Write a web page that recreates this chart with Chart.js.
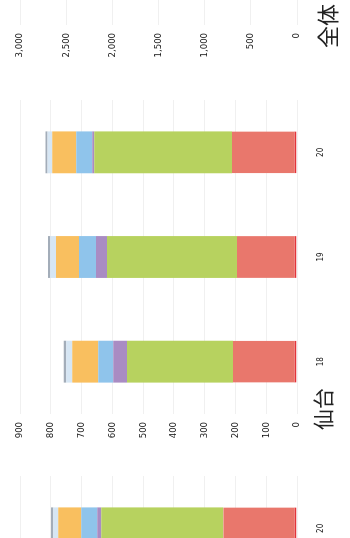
<!DOCTYPE html>
<html>
<head>
<meta charset="utf-8">
<script src="https://cdn.jsdelivr.net/npm/chart.js@4.4.0/dist/chart.umd.min.js"></script>
<style>
    body { margin: 0; background: #fff; overflow: hidden; }
    #frame {
        position: absolute; left: 0; top: 0;
        width: 538px; height: 350px;
        transform-origin: 0 0;
        transform: translate(0, 538px) rotate(-90deg);
        overflow: hidden;
        background: #fff;
    }
    .box { position: absolute; top: 0; width: 390px; height: 350px; }
    .title {
        position: absolute;
        font-family: 'Noto Sans CJK JP', sans-serif;
        color: #222;
        line-height: 1;
        white-space: nowrap;
    }
</style>
</head>
<body>
<div id="frame">
    <div class="box" style="left:-316px"><canvas id="prevChart" width="390" height="350"></canvas></div>
    <div class="box" style="left:60px"><canvas id="sendaiChart" width="390" height="350"></canvas></div>
    <div class="box" style="left:449px"><canvas id="totalChart" width="390" height="350"></canvas></div>
    <div class="title" style="left:108px; top:312px; font-size:21px;">仙台</div>
    <div class="title" style="left:490px; top:315px; font-size:22px;">全体</div>
</div>
<script>
const categories = ['18', '19', '20'];

// 仙台 (bottom segment first)
const sendaiRed = [208, 195, 211];
const sendaiGreen = [344, 422, 448];
const sendaiPurple = [45, 36, 6];
const sendaiBlue = [49, 55, 52];
const sendaiOrange = [84, 75, 78];
const sendaiLightBlue = [20, 19, 16];
const sendaiGray = [8, 7, 6];
const sendaiTicks = [0, 100, 200, 300, 400, 500, 600, 700, 800, 900];

// chart to the left of 仙台, only its last bar shows on the page
const prevRed = [null, null, 240];
const prevGreen = [null, null, 396];
const prevPurple = [null, null, 13];
const prevBlue = [null, null, 52];
const prevOrange = [null, null, 75];
const prevLightBlue = [null, null, 16];
const prevGray = [null, null, 7];

// 全体 axis
const totalTicks = [0, 500, 1000, 1500, 2000, 2500, 3000];

const colors = {
    red: '#E9776C',
    redEdge: '#E3343A',
    green: '#B7D25F',
    purple: '#A98CC3',
    blue: '#8FC4EB',
    orange: '#F9BF5F',
    lightBlue: '#D6E6F4',
    gray: '#A3ADB9'
};

const tickFont = "'DejaVu Sans Condensed', 'DejaVu Sans', sans-serif";

function makeDatasets(red, green, purple, blue, orange, lightBlue, gray) {
    return [
        {
            label: 'red', data: red, backgroundColor: colors.red,
            borderColor: colors.redEdge, borderSkipped: false,
            borderWidth: { top: 0, left: 0, right: 0, bottom: 2 }
        },
        { label: 'green', data: green, backgroundColor: colors.green },
        { label: 'purple', data: purple, backgroundColor: colors.purple },
        { label: 'blue', data: blue, backgroundColor: colors.blue },
        { label: 'orange', data: orange, backgroundColor: colors.orange },
        { label: 'lightBlue', data: lightBlue, backgroundColor: colors.lightBlue },
        { label: 'gray', data: gray, backgroundColor: colors.gray }
    ];
}

function makeChart(canvasId, datasets, ticks) {
    const ctx = document.getElementById(canvasId).getContext('2d');
    return new Chart(ctx, {
        type: 'bar',
        data: {
            labels: categories,
            datasets: datasets
        },
        options: {
            responsive: false,
            animation: false,
            barPercentage: 0.4,
            categoryPercentage: 1,
            layout: {
                padding: { left: 0, right: 12, top: 20, bottom: 0 }
            },
            plugins: {
                legend: { display: false },
                tooltip: { enabled: false }
            },
            scales: {
                x: {
                    stacked: true,
                    grid: { display: false, drawTicks: false },
                    border: { display: false },
                    ticks: {
                        padding: 19,
                        color: '#1a1a1a',
                        font: { family: tickFont, size: 8 }
                    },
                    afterFit: function(scale) {
                        scale.height = 53;
                    }
                },
                y: {
                    stacked: true,
                    min: ticks[0],
                    max: ticks[ticks.length - 1],
                    grid: { color: '#f0f0f0', drawTicks: false },
                    border: { display: false },
                    afterBuildTicks: function(scale) {
                        scale.ticks = ticks.map(v => ({ value: v }));
                    },
                    ticks: {
                        padding: 8,
                        color: '#1a1a1a',
                        font: { family: tickFont, size: 9.5 }
                    },
                    afterFit: function(scale) {
                        scale.width = 64;
                    }
                }
            }
        }
    });
}

makeChart('prevChart',
    makeDatasets(prevRed, prevGreen, prevPurple, prevBlue, prevOrange, prevLightBlue, prevGray),
    sendaiTicks);
makeChart('sendaiChart',
    makeDatasets(sendaiRed, sendaiGreen, sendaiPurple, sendaiBlue, sendaiOrange, sendaiLightBlue, sendaiGray),
    sendaiTicks);
makeChart('totalChart', [], totalTicks);
</script>
</body>
</html>
